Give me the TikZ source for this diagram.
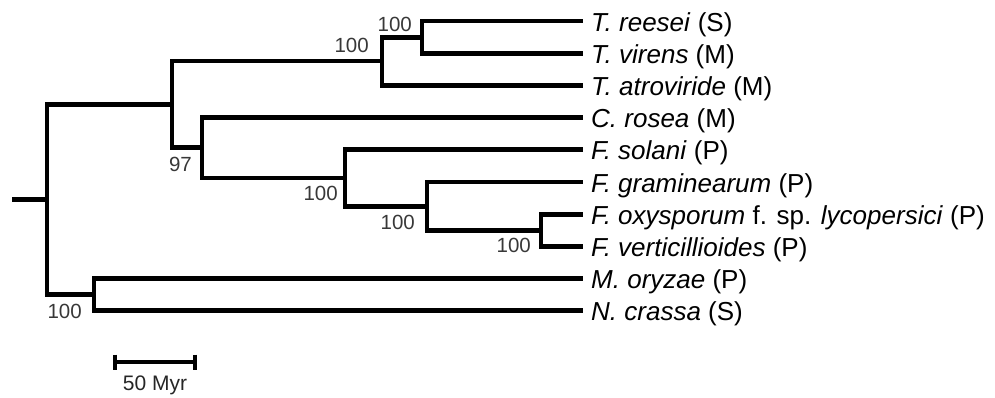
\documentclass[tikz,border=0pt]{standalone}
\usepackage{fontspec}
\setmainfont{Liberation Sans}
\usetikzlibrary{positioning}

\begin{document}
\begin{tikzpicture}[
        x=1pt, y=-1pt,
        branch/.style={line width=4.8pt, black},
        leaf/.style={anchor=west, inner xsep=8pt, inner ysep=0pt, text height=20pt, text depth=0pt, font=\fontsize{26}{30}\selectfont},
        bs/.style={inner sep=0pt, text=black!78, font=\fontsize{20.5}{24}\selectfont},
        node distance=8pt and 10pt
        ]
        \useasboundingbox (0,0) rectangle (995,397);

        % internal vertices of the tree
        \coordinate (stub) at (12,199.5);
        \coordinate (root) at (47,199.5);
        \coordinate (nA) at (172,104.4);
        \coordinate (nT) at (382,61);
        \coordinate (nTT) at (422,37.1);
        \coordinate (n97) at (202,147.8);
        \coordinate (nF) at (345,178);
        \coordinate (nF2) at (427,206.2);
        \coordinate (nF3) at (541,230.3);
        \coordinate (nM) at (94,294.7);

        % taxa
        \node[leaf] (reesei) at (583,21) {\textit{T. reesei} (S)};
        \node[leaf] (virens) at (583,53.2) {\textit{T. virens} (M)};
        \node[leaf] (atro) at (583,85.4) {\textit{T. atroviride} (M)};
        \node[leaf] (rosea) at (583,117.6) {\textit{C. rosea} (M)};
        \node[leaf] (solani) at (583,149.8) {\textit{F. solani} (P)};
        \node[leaf] (gram) at (583,182) {\textit{F. graminearum} (P)};
        \node[leaf] (oxy) at (583,214.2) {\textit{F. oxysporum} f. sp. \textit{lycopersici} (P)};
        \node[leaf] (vert) at (583,246.4) {\textit{F. verticillioides} (P)};
        \node[leaf] (oryzae) at (583,278.6) {\textit{M. oryzae} (P)};
        \node[leaf] (crassa) at (583,310.8) {\textit{N. crassa} (S)};

        % branches
        \draw[branch] (stub) -- (root);
        \draw[branch] (root) |- (nA);
        \draw[branch] (root) |- (nM);
        \draw[branch] (nA) |- (nT);
        \draw[branch] (nA) |- (n97);
        \draw[branch] (nT) |- (nTT);
        \draw[branch] (nT) |- (atro.west);
        \draw[branch] (nTT) |- (reesei.west);
        \draw[branch] (nTT) |- (virens.west);
        \draw[branch] (n97) |- (rosea.west);
        \draw[branch] (n97) |- (nF);
        \draw[branch] (nF) |- (solani.west);
        \draw[branch] (nF) |- (nF2);
        \draw[branch] (nF2) |- (gram.west);
        \draw[branch] (nF2) |- (nF3);
        \draw[branch] (nF3) |- (oxy.west);
        \draw[branch] (nF3) |- (vert.west);
        \draw[branch] (nM) |- (oryzae.west);
        \draw[branch] (nM) |- (crassa.west);

        % bootstrap values
        \node[bs, above left=5pt and 10pt of nTT] (bsTT) {100};
        \node[bs, above left=8pt and 13pt of nT] (bsT) {100};
        \node[bs, below left=9pt and 10pt of n97] (bs97) {97};
        \node[bs, below left=8pt and 7pt of nF] (bsF) {100};
        \node[bs, below left=9pt and 12pt of nF2] (bsF2) {100};
        \node[bs, below left=8pt and 10pt of nF3] (bsF3) {100};
        \node[bs, below left=9pt and 12pt of nM] (bsM) {100};

        % scale bar
        \coordinate (sbL) at (115,362);
        \coordinate (sbR) at (195,362);
        \draw[branch] (sbL) -- (sbR);
        \draw[branch] ([yshift=7.5pt]sbL) -- ([yshift=-7.5pt]sbL);
        \draw[branch] ([yshift=7.5pt]sbR) -- ([yshift=-7.5pt]sbR);
        \node[bs, text=black!85, font=\fontsize{21}{25}\selectfont] (myr) at (155,385) {50 Myr};
    \end{tikzpicture}
\end{document}
